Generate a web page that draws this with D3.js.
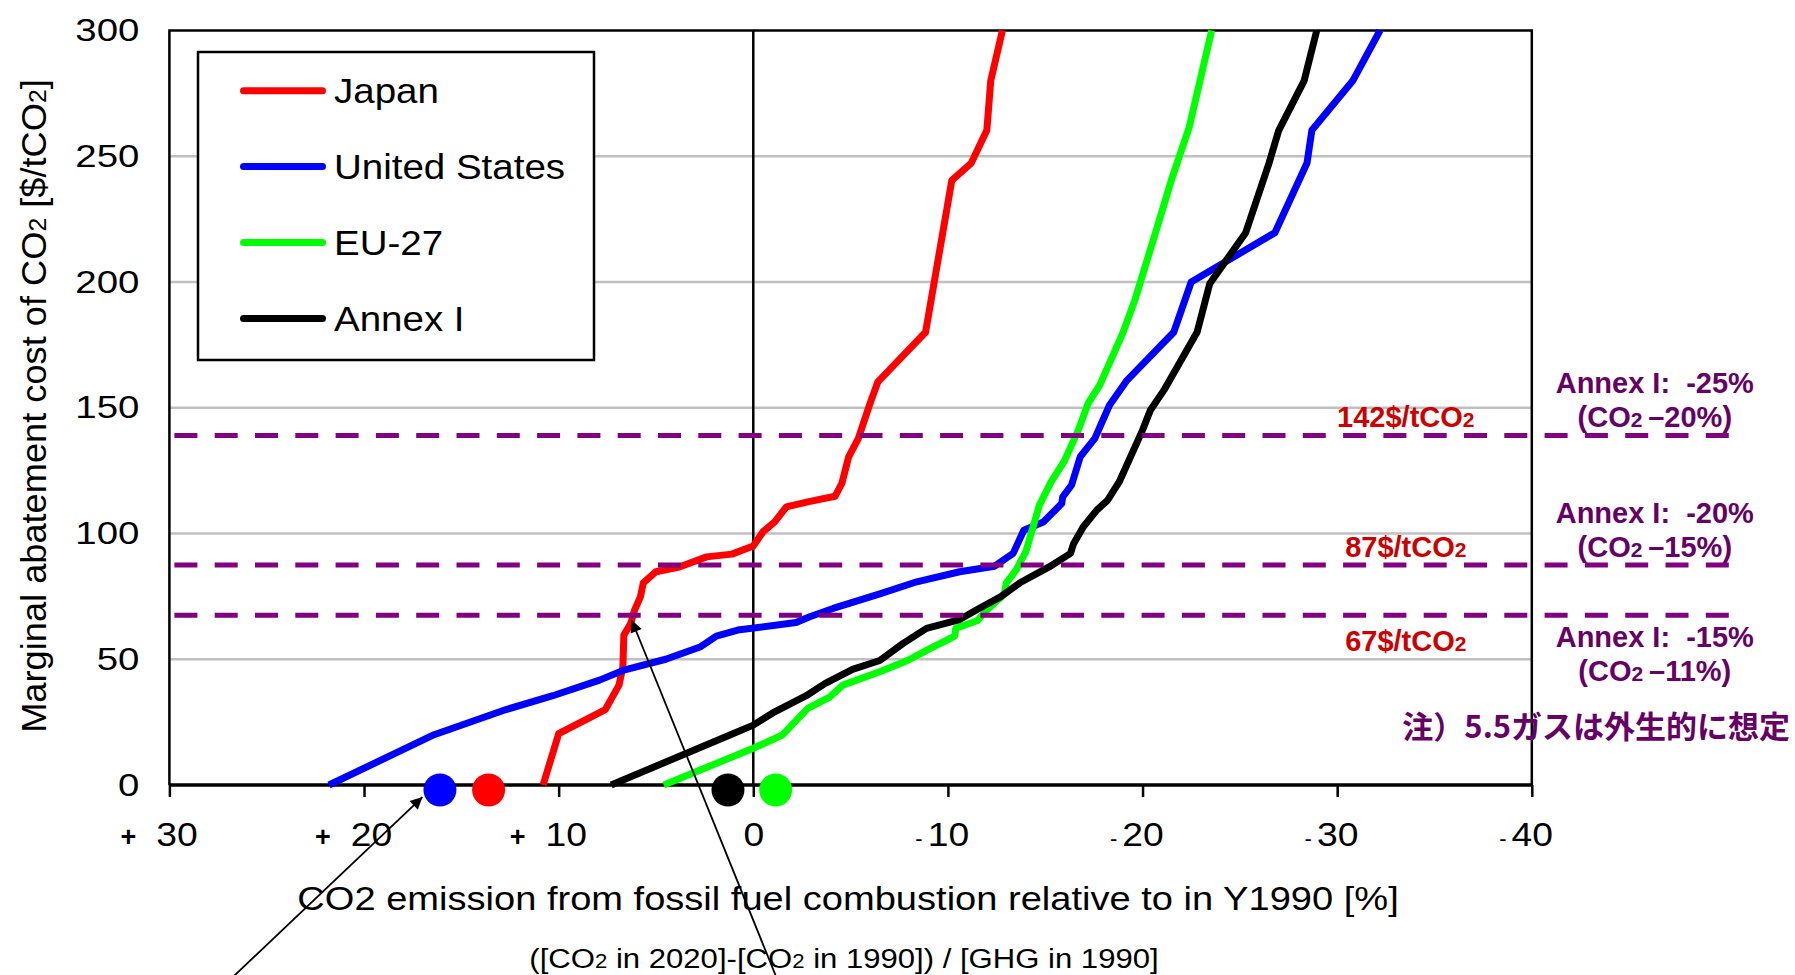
<!DOCTYPE html>
<html>
<head>
<meta charset="utf-8">
<script src="https://cdn.jsdelivr.net/npm/d3@7/dist/d3.min.js"></script>
<style>
  body { margin: 0; background: #fff; }
  text { font-family: "Liberation Sans", Arial, sans-serif; }
</style>
</head>
<body>
<svg id="chart" width="1795" height="975"></svg>
<script>
// ---- data ----
// [emission change vs 1990 (%), marginal abatement cost ($/tCO2)]
var japan = [[10.8,0],[10.0,20.4],[7.6,30],[6.9,39.7],[6.7,47],[6.65,59.6],[6.3,64.2],[6.1,69.5],[5.8,74.8],
  [5.65,80.4],[5.0,84.8],[3.8,86.7],[2.4,90.7],[1.1,91.8],[0.0,95],[-0.5,100.7],[-1.1,104.6],[-1.7,110.6],
  [-2.8,112.6],[-4.2,114.8],[-4.55,119.9],[-4.9,130.5],[-5.4,137.8],[-5.65,143.7],[-6.0,151.7],[-6.4,160.3],
  [-8.85,180],[-10.2,240.4],[-11.2,247.3],[-12.0,260.3],[-12.2,280],[-12.8,300]]
var unitedStates = [[21.8,0],[16.4,20],[12.7,30],[10.3,35.5],[7.9,41.7],[6.6,45.8],[4.5,50],[2.7,55],[1.9,59.2],
  [0.8,61.6],[-2.2,64.6],[-2.9,66.9],[-4.1,70.2],[-6.5,76],[-8.4,80.8],[-10.6,84.8],[-12.4,87],[-13.35,92.1],
  [-13.9,101.3],[-14.9,104.6],[-15.85,111.9],[-15.9,114.6],[-16.35,119.2],[-16.8,130.5],[-17.55,137.8],
  [-18.3,151],[-19.2,160.9],[-21.6,180],[-22.5,200],[-26.8,219.6],[-28.45,247.3],[-28.7,260.3],[-30.8,280],[-32.2,300]]
var eu27 = [[4.6,0],[0.0,14.6],[-1.5,19.9],[-2.8,30.5],[-3.9,34.8],[-4.6,39.7],[-6.5,45],[-7.9,49.4],[-9.1,54.3],
  [-10.35,59.2],[-10.4,62.3],[-11.5,65.3],[-12.0,69.5],[-12.9,75.9],[-13.0,80.4],[-13.5,85.4],[-14.0,92.7],
  [-14.7,111.3],[-15.3,120.5],[-16.0,129.1],[-16.7,141.1],[-17.2,151.7],[-17.8,159],[-19.0,180],[-19.6,192.7],
  [-20.7,220.5],[-21.5,241],[-22.4,261.6],[-23.55,300]]
var annexI = [[7.3,0],[1.2,19.9],[0.0,23.8],[-1.1,29.1],[-2.7,35.4],[-3.7,40.4],[-5.1,46],[-6.5,49.5],[-7.7,56.3],
  [-8.9,62.3],[-10.6,65.8],[-11.6,70.2],[-12.7,74.8],[-13.7,80.4],[-15.2,86.7],[-16.3,92.1],[-16.45,95.8],
  [-16.95,102.6],[-17.65,109.3],[-18.2,113.2],[-18.8,120.5],[-20.0,141.1],[-20.4,149],[-21.1,157],[-22.8,180],
  [-23.45,199.3],[-25.3,219.6],[-26.5,247.3],[-27.0,260.3],[-28.3,280],[-28.95,300]]

var seriesNames = ['Japan', 'United States', 'EU-27', 'Annex I']
var seriesData = [japan, unitedStates, eu27, annexI]
var seriesColors = ['#ff0000', '#0000ff', '#00ff00', '#000000']

// markers on the axis (one per series)
var markerPct = [13.6, 16.1, -1.15, 1.3]
var markerLevel = -2

var xTicks = [30, 20, 10, 0, -10, -20, -30, -40]
var yTicks = [0, 50, 100, 150, 200, 250, 300]
var gridValues = [50, 100, 150, 200, 250]

// target cost lines
var targetCosts = [139, 87.5, 67.5]
var costLabels = ['142$/tCO', '87$/tCO', '67$/tCO']
var costLabelAbove = [true, true, false]
var annexLines = ['Annex I:  -25%', 'Annex I:  -20%', 'Annex I:  -15%']
var co2Lines = ['–20%)', '–15%)', '–11%)']
var noteText = '注）5.5ガスは外生的に想定'

// arrows [from, to] in chart units
var arrows = [[[27.44, -81.5], [17.0, -4.8]], [[-1.45, -81.5], [6.25, 65.6]]]

// ---- drawing ----
var svg = d3.select('#chart')
var W = 1795, H = 975
var x = d3.scaleLinear().domain([30, -40]).range([169.4, 1531.8])
var y = d3.scaleLinear().domain([0, 300]).range([785, 30.5])
var purple = '#800080', darkPurple = '#660066', darkRed = '#cc0000'

svg.append('rect').attr('width', W).attr('height', H).attr('fill', '#fff')

// grid
svg.append('g').selectAll('line').data(gridValues).enter().append('line')
  .attr('x1', x(30)).attr('x2', x(-40))
  .attr('y1', d => y(d)).attr('y2', d => y(d))
  .style('stroke', '#c0c0c0').style('stroke-width', 2.5)

// frame
svg.append('path')
  .attr('d', `M${x(30)},${y(0)}V${y(300)}H${x(-40)}V${y(0)}`)
  .style('fill', 'none').style('stroke', '#000').style('stroke-width', 2.5)

// zero line
svg.append('line').attr('x1', x(0)).attr('x2', x(0)).attr('y1', y(0)).attr('y2', y(300))
  .style('stroke', '#000').style('stroke-width', 2.5)

// x axis
var tickStretch = 1.13
var xAxis = svg.append('g').attr('transform', `translate(0,${y(0)})`)
  .call(d3.axisBottom(x).tickValues(xTicks).tickSize(12).tickFormat(d => Math.abs(d)))
xAxis.select('.domain').style('stroke-width', 3.5).attr('d', `M${x(30)},0H${x(-40)}`)
xAxis.selectAll('.tick line').style('stroke-width', 2.5)
xAxis.selectAll('.tick text')
  .attr('y', 61).attr('dy', null)
  .attr('x', d => d > 0 ? 7 / tickStretch : 0)
  .attr('transform', `scale(${tickStretch},1)`)
  .style('font-size', '33px').style('fill', '#000')
  .attr('font-family', null)
xAxis.selectAll('.tick').each(function (d) {
  if (d === 0) return
  var t = d3.select(this).select('text')
  var w = t.node().getComputedTextLength() * tickStretch
  var shift = d > 0 ? 7 : 0
  var gap = d > 0 ? 20 : 5
  d3.select(this).append('text')
    .attr('x', shift - w / 2 - gap).attr('y', 61)
    .attr('text-anchor', 'end')
    .style('font-size', d > 0 ? '27px' : '22px').style('font-weight', d > 0 ? 'bold' : 'normal')
    .style('fill', '#000')
    .text(d > 0 ? '+' : '-')
})

// y axis labels
var yStretch = 1.2
var yAxis = svg.append('g').attr('transform', `translate(${x(30)},0)`)
  .call(d3.axisLeft(y).tickValues(yTicks).tickSize(0).tickPadding(31))
yAxis.select('.domain').remove()
yAxis.selectAll('.tick text')
  .attr('x', -30 / yStretch)
  .attr('transform', `scale(${yStretch},1)`)
  .style('font-size', '32px').style('fill', '#000').attr('font-family', null)

// curves
var line = d3.line().x(d => x(d[0])).y(d => y(d[1]))
svg.append('g').selectAll('path').data(seriesData).enter().append('path')
  .attr('d', line)
  .style('fill', 'none')
  .style('stroke', (d, i) => seriesColors[i])
  .style('stroke-width', 7)
  .style('stroke-linejoin', 'round')

// target cost lines
svg.append('g').selectAll('line').data(targetCosts).enter().append('line')
  .attr('x1', x(30) + 5).attr('x2', W - 56)
  .attr('y1', d => y(d)).attr('y2', d => y(d))
  .style('stroke', purple).style('stroke-width', 5)
  .style('stroke-dasharray', '23,17.3')

// axis markers
svg.append('g').selectAll('circle').data(markerPct).enter().append('circle')
  .attr('cx', d => x(d)).attr('cy', y(markerLevel)).attr('r', 16.5)
  .style('fill', (d, i) => seriesColors[i])

// arrows
svg.append('defs').append('marker').attr('id', 'head')
  .attr('viewBox', '0 0 10 10').attr('refX', 10).attr('refY', 5)
  .attr('markerWidth', 16).attr('markerHeight', 12).attr('markerUnits', 'userSpaceOnUse')
  .attr('orient', 'auto')
  .append('path').attr('d', 'M0,0L10,5L0,10Z').style('fill', '#000')
svg.append('g').selectAll('line').data(arrows).enter().append('line')
  .attr('x1', d => x(d[0][0])).attr('y1', d => y(d[0][1]))
  .attr('x2', d => x(d[1][0])).attr('y2', d => y(d[1][1]))
  .style('stroke', '#000').style('stroke-width', 1.8)
  .attr('marker-end', 'url(#head)')

// cost labels and Annex I targets
var right = x(-40)
targetCosts.forEach(function (c, i) {
  var above = costLabelAbove[i]
  var t = svg.append('text')
    .attr('x', right - 126).attr('y', above ? y(c) - 8 : y(c) + 36)
    .attr('text-anchor', 'middle')
    .style('font-size', '29px').style('font-weight', 'bold').style('fill', darkRed)
  t.append('tspan').text(costLabels[i])
  t.append('tspan').style('font-size', '21px').text('2')

  var base = above ? y(c) - 42 : y(c) + 32
  svg.append('text')
    .attr('x', right + 123).attr('y', base)
    .attr('text-anchor', 'middle')
    .style('font-size', '29px').style('font-weight', 'bold').style('fill', darkPurple)
    .style('white-space', 'pre')
    .text(annexLines[i])
  var t2 = svg.append('text')
    .attr('x', right + 123).attr('y', base + 34)
    .attr('text-anchor', 'middle')
    .style('font-size', '29px').style('font-weight', 'bold').style('fill', darkPurple)
    .style('white-space', 'pre')
  t2.append('tspan').text('(CO')
  t2.append('tspan').style('font-size', '21px').text('2 ')
  t2.append('tspan').text(co2Lines[i])
})

svg.append('text')
  .attr('x', W - 5).attr('y', y(markerLevel) - 52)
  .attr('text-anchor', 'end')
  .style('font-family', '"Noto Sans CJK JP", sans-serif')
  .style('font-size', '31px').style('font-weight', 'bold').style('fill', darkPurple)
  .text(noteText)

// legend
var legend = svg.append('g').attr('transform', 'translate(198,52)')
legend.append('rect').attr('width', 396).attr('height', 308)
  .style('fill', '#fff').style('stroke', '#000').style('stroke-width', 2.5)
var items = legend.selectAll('g.item').data(seriesNames).enter().append('g')
  .attr('class', 'item')
  .attr('transform', (d, i) => `translate(0,${38.7 + i * 75.9})`)
items.append('line').attr('x1', 45.5).attr('x2', 124.5)
  .style('stroke', (d, i) => seriesColors[i]).style('stroke-width', 7).style('stroke-linecap', 'round')
items.append('text').attr('transform', 'translate(136,0) scale(1.1,1)').attr('dy', '0.35em')
  .style('font-size', '35px').style('fill', '#000')
  .text(d => d)

// axis titles
var yTitle = svg.append('text')
  .attr('transform', 'translate(46,406) rotate(-90) scale(1.035,1)')
  .attr('text-anchor', 'middle')
  .style('font-size', '35px').style('fill', '#000')
yTitle.append('tspan').text('Marginal abatement cost of CO')
yTitle.append('tspan').style('font-size', '24px').text('2')
yTitle.append('tspan').text(' [$/tCO')
yTitle.append('tspan').style('font-size', '24px').text('2')
yTitle.append('tspan').text(']')

svg.append('text')
  .attr('transform', 'translate(848,910) scale(1.12,1)')
  .attr('text-anchor', 'middle')
  .style('font-size', '34px').style('fill', '#000')
  .text('CO2 emission from fossil fuel combustion relative to in Y1990 [%]')

var sub = svg.append('text')
  .attr('transform', 'translate(844,968) scale(1.11,1)')
  .attr('text-anchor', 'middle')
  .style('font-size', '28px').style('fill', '#000')
sub.append('tspan').text('([CO')
sub.append('tspan').style('font-size', '20px').text('2')
sub.append('tspan').text(' in 2020]-[CO')
sub.append('tspan').style('font-size', '20px').text('2')
sub.append('tspan').text(' in 1990]) / [GHG in 1990]')
</script>
</body>
</html>
